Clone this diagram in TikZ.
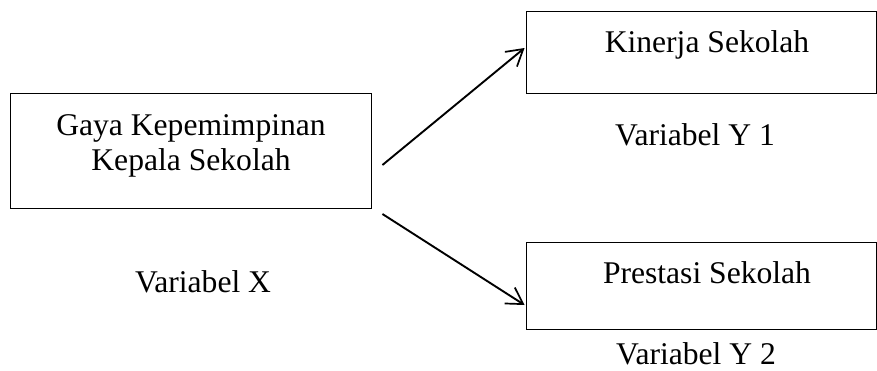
\documentclass[tikz,border=0pt]{standalone}
\usepackage{fontspec}
\setmainfont{Liberation Serif}
\usetikzlibrary{arrows.meta,calc}
\begin{document}
\begin{tikzpicture}[x=1pt,y=-1pt,
  boxstyle/.style={draw=black,line width=0.9pt,rectangle,inner sep=0pt},
  txt/.style={font=\fontsize{31.6}{35}\selectfont,inner sep=0pt,anchor=base,align=center},
  arr/.style={line width=1.9pt,-{Straight Barb[length=16pt,width=19pt,line width=1.7pt]}}]
\useasboundingbox (0,0) rectangle (877,370);
% boxes
\node[boxstyle,minimum width=361pt,minimum height=115pt] (X) at (190.5,150.5) {};
\node[boxstyle,minimum width=350pt,minimum height=82pt] (Y1) at (701,52) {};
\node[boxstyle,minimum width=350pt,minimum height=87pt] (Y2) at (701,285.5) {};
% box texts
\node[txt] (tX) at (191,170) {Gaya Kepemimpinan\\Kepala Sekolah};
\node[txt] (tY1) at (707,52) {Kinerja Sekolah};
\node[txt] (tY2) at (707,283) {Prestasi Sekolah};
% variable labels
\node[txt] (vX) at (203,292) {Variabel X};
\node[txt] (vY1) at (695,145) {Variabel Y 1};
\node[txt] (vY2) at (696,364) {Variabel Y 2};
% arrow end points
\coordinate (s1) at ($(X.east)+(11,14.5)$);
\coordinate (e1) at ($(Y1.west)+(-1,-4)$);
\coordinate (s2) at ($(X.east)+(11,63.5)$);
\coordinate (e2) at ($(Y2.west)+(-1,19.5)$);
\draw[arr] (s1) -- (e1);
\draw[arr] (s2) -- (e2);
\end{tikzpicture}
\end{document}
